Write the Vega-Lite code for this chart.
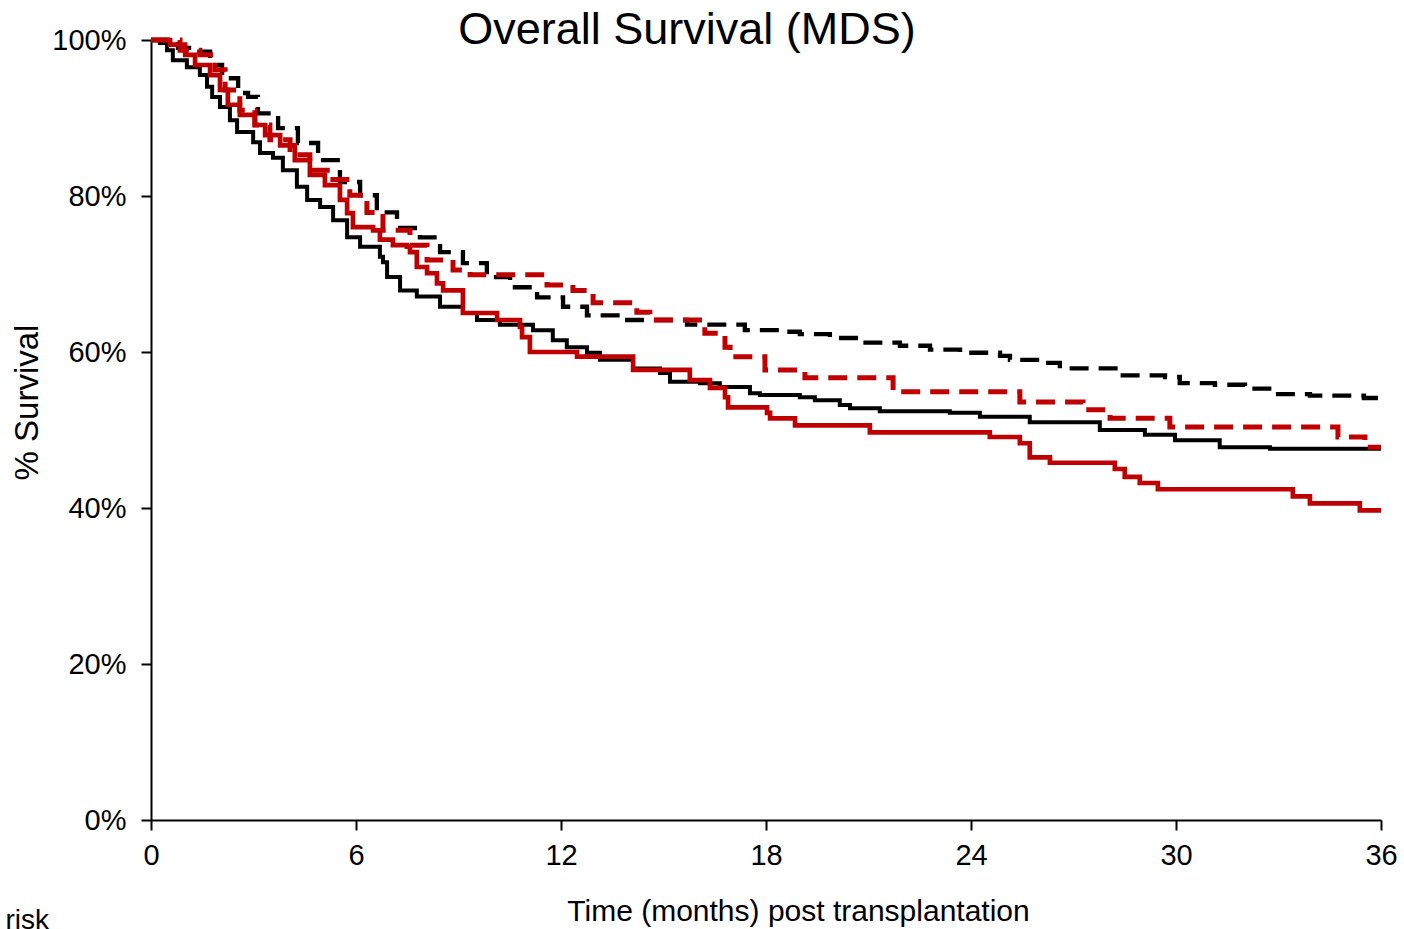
{
  "$schema": "https://vega.github.io/schema/vega-lite/v6.json",
  "width": 1230,
  "height": 780,
  "autosize": {"type": "none"},
  "padding": {"left": 151, "top": 40, "right": 23, "bottom": 109},
  "background": "white",
  "title": {
    "text": "Overall Survival (MDS)",
    "font": "Liberation Sans",
    "fontSize": 45,
    "fontWeight": "normal",
    "color": "black",
    "anchor": "middle",
    "frame": "group",
    "dx": -79,
    "offset": -27
  },
  "config": {
    "view": {"stroke": null},
    "axis": {
      "grid": false,
      "domainColor": "black",
      "domainWidth": 2,
      "tickColor": "black",
      "tickWidth": 2,
      "tickSize": 10,
      "labelFont": "Liberation Sans",
      "labelFontSize": 29,
      "labelColor": "black",
      "titleFont": "Liberation Sans",
      "titleFontWeight": "normal",
      "titleColor": "black"
    }
  },
  "datasets": {
    "km": [
      {"group": "Black solid", "month": 0, "survival": 100},
      {"group": "Black solid", "month": 0.26, "survival": 99.6},
      {"group": "Black solid", "month": 0.47, "survival": 98.7},
      {"group": "Black solid", "month": 0.64, "survival": 97.4},
      {"group": "Black solid", "month": 1.05, "survival": 96.5},
      {"group": "Black solid", "month": 1.43, "survival": 95.5},
      {"group": "Black solid", "month": 1.64, "survival": 94.0},
      {"group": "Black solid", "month": 1.79, "survival": 92.7},
      {"group": "Black solid", "month": 2.02, "survival": 91.4},
      {"group": "Black solid", "month": 2.31, "survival": 89.7},
      {"group": "Black solid", "month": 2.52, "survival": 88.2},
      {"group": "Black solid", "month": 2.99, "survival": 86.9},
      {"group": "Black solid", "month": 3.19, "survival": 85.5},
      {"group": "Black solid", "month": 3.57, "survival": 84.9},
      {"group": "Black solid", "month": 3.86, "survival": 83.3},
      {"group": "Black solid", "month": 4.27, "survival": 81.2},
      {"group": "Black solid", "month": 4.57, "survival": 79.5},
      {"group": "Black solid", "month": 4.95, "survival": 78.6},
      {"group": "Black solid", "month": 5.33, "survival": 76.9},
      {"group": "Black solid", "month": 5.74, "survival": 74.7},
      {"group": "Black solid", "month": 6.12, "survival": 73.5},
      {"group": "Black solid", "month": 6.70, "survival": 72.2},
      {"group": "Black solid", "month": 6.79, "survival": 71.5},
      {"group": "Black solid", "month": 6.91, "survival": 69.6},
      {"group": "Black solid", "month": 7.29, "survival": 67.9},
      {"group": "Black solid", "month": 7.78, "survival": 67.1},
      {"group": "Black solid", "month": 8.46, "survival": 65.8},
      {"group": "Black solid", "month": 9.13, "survival": 65.0},
      {"group": "Black solid", "month": 9.54, "survival": 64.1},
      {"group": "Black solid", "month": 10.21, "survival": 63.5},
      {"group": "Black solid", "month": 11.18, "survival": 62.8},
      {"group": "Black solid", "month": 11.76, "survival": 61.5},
      {"group": "Black solid", "month": 12.17, "survival": 60.6},
      {"group": "Black solid", "month": 12.76, "survival": 59.9},
      {"group": "Black solid", "month": 13.14, "survival": 59.0},
      {"group": "Black solid", "month": 14.11, "survival": 57.9},
      {"group": "Black solid", "month": 14.90, "survival": 57.3},
      {"group": "Black solid", "month": 15.19, "survival": 56.2},
      {"group": "Black solid", "month": 16.07, "survival": 56.0},
      {"group": "Black solid", "month": 16.65, "survival": 55.5},
      {"group": "Black solid", "month": 17.53, "survival": 54.7},
      {"group": "Black solid", "month": 17.82, "survival": 54.5},
      {"group": "Black solid", "month": 18.99, "survival": 54.2},
      {"group": "Black solid", "month": 19.43, "survival": 53.8},
      {"group": "Black solid", "month": 20.16, "survival": 53.2},
      {"group": "Black solid", "month": 20.46, "survival": 52.8},
      {"group": "Black solid", "month": 21.33, "survival": 52.4},
      {"group": "Black solid", "month": 23.38, "survival": 52.2},
      {"group": "Black solid", "month": 24.26, "survival": 51.7},
      {"group": "Black solid", "month": 25.72, "survival": 51.0},
      {"group": "Black solid", "month": 27.77, "survival": 50.0},
      {"group": "Black solid", "month": 29.09, "survival": 49.4},
      {"group": "Black solid", "month": 29.97, "survival": 48.7},
      {"group": "Black solid", "month": 31.28, "survival": 47.8},
      {"group": "Black solid", "month": 32.75, "survival": 47.6},
      {"group": "Black solid", "month": 36, "survival": 47.6},

      {"group": "Black dashed", "month": 0, "survival": 100},
      {"group": "Black dashed", "month": 0.79, "survival": 99.0},
      {"group": "Black dashed", "month": 1.20, "survival": 98.5},
      {"group": "Black dashed", "month": 1.73, "survival": 96.8},
      {"group": "Black dashed", "month": 2.08, "survival": 95.1},
      {"group": "Black dashed", "month": 2.55, "survival": 93.2},
      {"group": "Black dashed", "month": 2.84, "survival": 92.7},
      {"group": "Black dashed", "month": 3.13, "survival": 90.6},
      {"group": "Black dashed", "month": 3.72, "survival": 88.7},
      {"group": "Black dashed", "month": 4.30, "survival": 86.8},
      {"group": "Black dashed", "month": 4.89, "survival": 84.6},
      {"group": "Black dashed", "month": 5.53, "survival": 81.8},
      {"group": "Black dashed", "month": 6.12, "survival": 80.1},
      {"group": "Black dashed", "month": 6.61, "survival": 77.9},
      {"group": "Black dashed", "month": 7.20, "survival": 75.9},
      {"group": "Black dashed", "month": 7.87, "survival": 74.7},
      {"group": "Black dashed", "month": 8.46, "survival": 72.8},
      {"group": "Black dashed", "month": 9.13, "survival": 71.4},
      {"group": "Black dashed", "month": 9.83, "survival": 69.6},
      {"group": "Black dashed", "month": 10.51, "survival": 68.3},
      {"group": "Black dashed", "month": 11.30, "survival": 67.0},
      {"group": "Black dashed", "month": 12.06, "survival": 65.8},
      {"group": "Black dashed", "month": 12.76, "survival": 64.7},
      {"group": "Black dashed", "month": 13.73, "survival": 64.1},
      {"group": "Black dashed", "month": 15.69, "survival": 63.5},
      {"group": "Black dashed", "month": 17.38, "survival": 62.8},
      {"group": "Black dashed", "month": 18.41, "survival": 62.6},
      {"group": "Black dashed", "month": 18.99, "survival": 62.3},
      {"group": "Black dashed", "month": 19.87, "survival": 61.8},
      {"group": "Black dashed", "month": 20.75, "survival": 61.2},
      {"group": "Black dashed", "month": 21.92, "survival": 60.8},
      {"group": "Black dashed", "month": 22.80, "survival": 60.3},
      {"group": "Black dashed", "month": 23.68, "survival": 59.9},
      {"group": "Black dashed", "month": 24.85, "survival": 59.5},
      {"group": "Black dashed", "month": 25.14, "survival": 59.0},
      {"group": "Black dashed", "month": 26.02, "survival": 58.6},
      {"group": "Black dashed", "month": 26.60, "survival": 57.9},
      {"group": "Black dashed", "month": 28.30, "survival": 57.0},
      {"group": "Black dashed", "month": 29.68, "survival": 56.8},
      {"group": "Black dashed", "month": 30.11, "survival": 56.0},
      {"group": "Black dashed", "month": 31.14, "survival": 55.8},
      {"group": "Black dashed", "month": 32.02, "survival": 55.3},
      {"group": "Black dashed", "month": 32.89, "survival": 54.6},
      {"group": "Black dashed", "month": 33.92, "survival": 54.4},
      {"group": "Black dashed", "month": 35.5, "survival": 54.1},
      {"group": "Black dashed", "month": 36, "survival": 54.1},

      {"group": "Red solid", "month": 0, "survival": 100},
      {"group": "Red solid", "month": 0.56, "survival": 99.4},
      {"group": "Red solid", "month": 1.00, "survival": 98.1},
      {"group": "Red solid", "month": 1.29, "survival": 96.8},
      {"group": "Red solid", "month": 1.73, "survival": 95.5},
      {"group": "Red solid", "month": 2.02, "survival": 93.6},
      {"group": "Red solid", "month": 2.25, "survival": 91.7},
      {"group": "Red solid", "month": 2.60, "survival": 90.4},
      {"group": "Red solid", "month": 3.04, "survival": 89.1},
      {"group": "Red solid", "month": 3.34, "survival": 87.8},
      {"group": "Red solid", "month": 3.78, "survival": 86.5},
      {"group": "Red solid", "month": 4.21, "survival": 84.6},
      {"group": "Red solid", "month": 4.65, "survival": 82.7},
      {"group": "Red solid", "month": 5.09, "survival": 81.4},
      {"group": "Red solid", "month": 5.53, "survival": 79.5},
      {"group": "Red solid", "month": 5.74, "survival": 77.8},
      {"group": "Red solid", "month": 5.91, "survival": 76.0},
      {"group": "Red solid", "month": 6.50, "survival": 75.6},
      {"group": "Red solid", "month": 6.70, "survival": 74.4},
      {"group": "Red solid", "month": 7.08, "survival": 73.7},
      {"group": "Red solid", "month": 7.49, "survival": 73.5},
      {"group": "Red solid", "month": 7.58, "survival": 72.8},
      {"group": "Red solid", "month": 7.78, "survival": 70.9},
      {"group": "Red solid", "month": 8.08, "survival": 70.1},
      {"group": "Red solid", "month": 8.37, "survival": 68.8},
      {"group": "Red solid", "month": 8.55, "survival": 67.9},
      {"group": "Red solid", "month": 9.13, "survival": 65.0},
      {"group": "Red solid", "month": 10.13, "survival": 64.1},
      {"group": "Red solid", "month": 10.80, "survival": 63.2},
      {"group": "Red solid", "month": 10.86, "survival": 61.9},
      {"group": "Red solid", "month": 11.09, "survival": 60.0},
      {"group": "Red solid", "month": 12.47, "survival": 59.4},
      {"group": "Red solid", "month": 14.11, "survival": 57.7},
      {"group": "Red solid", "month": 15.77, "survival": 56.4},
      {"group": "Red solid", "month": 16.36, "survival": 55.4},
      {"group": "Red solid", "month": 16.80, "survival": 54.2},
      {"group": "Red solid", "month": 16.89, "survival": 52.9},
      {"group": "Red solid", "month": 18.03, "survival": 52.2},
      {"group": "Red solid", "month": 18.12, "survival": 51.5},
      {"group": "Red solid", "month": 18.85, "survival": 50.6},
      {"group": "Red solid", "month": 21.04, "survival": 49.7},
      {"group": "Red solid", "month": 24.55, "survival": 49.1},
      {"group": "Red solid", "month": 25.43, "survival": 48.3},
      {"group": "Red solid", "month": 25.72, "survival": 46.5},
      {"group": "Red solid", "month": 26.31, "survival": 45.8},
      {"group": "Red solid", "month": 28.21, "survival": 45.0},
      {"group": "Red solid", "month": 28.50, "survival": 44.0},
      {"group": "Red solid", "month": 28.94, "survival": 43.2},
      {"group": "Red solid", "month": 29.47, "survival": 42.4},
      {"group": "Red solid", "month": 33.42, "survival": 41.5},
      {"group": "Red solid", "month": 33.92, "survival": 40.6},
      {"group": "Red solid", "month": 35.38, "survival": 39.7},
      {"group": "Red solid", "month": 36, "survival": 39.7},

      {"group": "Red dashed", "month": 0, "survival": 100},
      {"group": "Red dashed", "month": 0.85, "survival": 98.7},
      {"group": "Red dashed", "month": 1.43, "survival": 98.1},
      {"group": "Red dashed", "month": 1.87, "survival": 96.2},
      {"group": "Red dashed", "month": 2.17, "survival": 93.6},
      {"group": "Red dashed", "month": 2.60, "survival": 91.0},
      {"group": "Red dashed", "month": 3.04, "survival": 89.1},
      {"group": "Red dashed", "month": 3.48, "survival": 87.2},
      {"group": "Red dashed", "month": 4.07, "survival": 85.3},
      {"group": "Red dashed", "month": 4.65, "survival": 83.3},
      {"group": "Red dashed", "month": 5.24, "survival": 82.1},
      {"group": "Red dashed", "month": 5.82, "survival": 80.1},
      {"group": "Red dashed", "month": 6.32, "survival": 77.9},
      {"group": "Red dashed", "month": 6.79, "survival": 75.6},
      {"group": "Red dashed", "month": 7.58, "survival": 73.7},
      {"group": "Red dashed", "month": 8.08, "survival": 71.8},
      {"group": "Red dashed", "month": 8.84, "survival": 70.5},
      {"group": "Red dashed", "month": 9.34, "survival": 69.9},
      {"group": "Red dashed", "month": 11.59, "survival": 68.6},
      {"group": "Red dashed", "month": 12.35, "survival": 67.9},
      {"group": "Red dashed", "month": 12.94, "survival": 66.3},
      {"group": "Red dashed", "month": 14.22, "survival": 65.1},
      {"group": "Red dashed", "month": 14.60, "survival": 64.1},
      {"group": "Red dashed", "month": 16.21, "survival": 62.4},
      {"group": "Red dashed", "month": 16.80, "survival": 60.6},
      {"group": "Red dashed", "month": 16.95, "survival": 59.4},
      {"group": "Red dashed", "month": 17.97, "survival": 57.7},
      {"group": "Red dashed", "month": 19.14, "survival": 56.7},
      {"group": "Red dashed", "month": 21.72, "survival": 54.9},
      {"group": "Red dashed", "month": 25.43, "survival": 53.6},
      {"group": "Red dashed", "month": 27.28, "survival": 52.6},
      {"group": "Red dashed", "month": 28.07, "survival": 51.5},
      {"group": "Red dashed", "month": 29.82, "survival": 50.4},
      {"group": "Red dashed", "month": 34.74, "survival": 49.1},
      {"group": "Red dashed", "month": 35.53, "survival": 47.8},
      {"group": "Red dashed", "month": 36, "survival": 47.8}
    ],
    "origin": [{"month": 0}]
  },
  "resolve": {"axis": {"x": "independent"}},
  "layer": [
    {
      "data": {"name": "km"},
      "mark": {"type": "line", "interpolate": "step-after", "strokeCap": "butt"},
      "encoding": {
        "x": {
          "field": "month",
          "type": "quantitative",
          "scale": {"domain": [0, 36], "nice": false, "zero": true},
          "axis": {
            "values": [0, 6, 12, 18, 24, 30, 36],
            "title": "Time (months) post transplantation",
            "titleFontSize": 30,
            "titleX": 647,
            "titleY": 100,
            "titleAlign": "center",
            "titleBaseline": "alphabetic",
            "labelPadding": 11,
            "labelFlush": false
          }
        },
        "y": {
          "field": "survival",
          "type": "quantitative",
          "scale": {"domain": [0, 100], "nice": false},
          "axis": {
            "values": [0, 20, 40, 60, 80, 100],
            "labelExpr": "datum.value + '%'",
            "title": "% Survival",
            "titleFontSize": 33,
            "titleAngle": -90,
            "titleX": -124,
            "titleY": 362,
            "titleAlign": "center",
            "titleBaseline": "middle",
            "labelPadding": 15,
            "labelFlush": false
          }
        },
        "color": {
          "field": "group",
          "type": "nominal",
          "scale": {
            "domain": ["Black solid", "Black dashed", "Red solid", "Red dashed"],
            "range": ["#000000", "#000000", "#C00000", "#C00000"]
          },
          "legend": null
        },
        "strokeDash": {
          "field": "group",
          "type": "nominal",
          "scale": {
            "domain": ["Black solid", "Black dashed", "Red solid", "Red dashed"],
            "range": [[1, 0], [19, 10], [1, 0], [19, 10]]
          },
          "legend": null
        },
        "strokeWidth": {
          "field": "group",
          "type": "nominal",
          "scale": {
            "domain": ["Black solid", "Black dashed", "Red solid", "Red dashed"],
            "range": [4, 5, 4, 4.5]
          },
          "legend": null
        }
      }
    },
    {
      "data": {"name": "origin"},
      "mark": {"type": "rule", "opacity": 0},
      "encoding": {
        "x": {
          "field": "month",
          "type": "quantitative",
          "axis": {
            "orient": "top",
            "domain": false,
            "ticks": false,
            "labels": false,
            "title": "risk",
            "titleFontSize": 28,
            "titleX": -146,
            "titleY": 888,
            "titleAlign": "left",
            "titleBaseline": "alphabetic"
          }
        }
      }
    }
  ]
}
